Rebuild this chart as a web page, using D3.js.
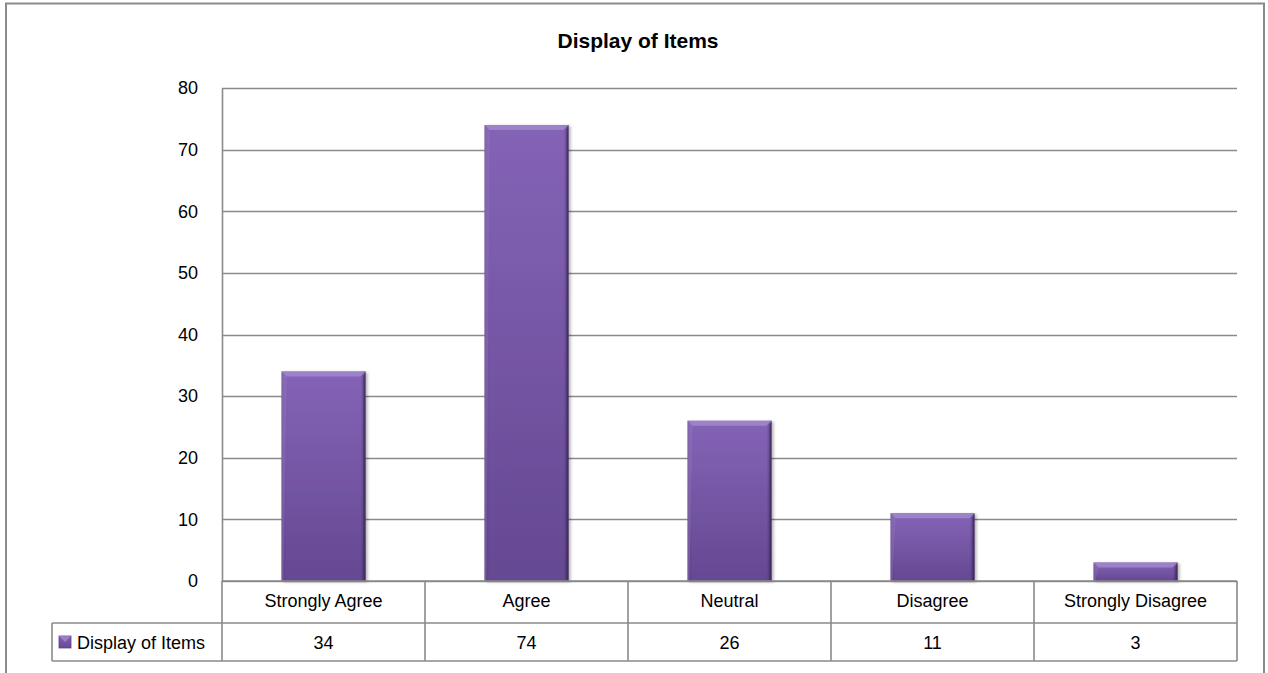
<!DOCTYPE html>
<html><head><meta charset="utf-8">
<script src="https://cdn.jsdelivr.net/npm/d3@7/dist/d3.min.js"></script>
<style>body{margin:0;background:#fff}svg{display:block}text{font-family:"Liberation Sans",Arial,sans-serif}</style>
</head><body><div id="chart"></div>
<script>
const title = "Display of Items";
const seriesName = "Display of Items";
const categories = ["Strongly Agree", "Agree", "Neutral", "Disagree", "Strongly Disagree"];
const values = [34, 74, 26, 11, 3];
const yTicks = [0, 10, 20, 30, 40, 50, 60, 70, 80];

const W = 1268, H = 673;
const FS = 18;
const svg = d3.select("#chart").append("svg").attr("width", W).attr("height", H);
const defs = svg.append("defs");

const plot = {left: 222, right: 1237, top: 88, bottom: 581};
const rowH1 = 42, rowH2 = 38;
const legendLeft = 52;

const x = d3.scaleBand().domain(categories).range([plot.left, plot.right]).paddingInner(0).paddingOuter(0);
const y = d3.scaleLinear().domain([0, 80]).range([plot.bottom, plot.top]);

// gradients
const gv = defs.append("linearGradient").attr("id", "gv").attr("x1", 0).attr("y1", 0).attr("x2", 0).attr("y2", 1);
gv.append("stop").attr("offset", "0%").attr("stop-color", "#8463b6");
gv.append("stop").attr("offset", "100%").attr("stop-color", "#654892");
const gh = defs.append("linearGradient").attr("id", "gh").attr("x1", 0).attr("y1", 0).attr("x2", 1).attr("y2", 0);
gh.append("stop").attr("offset", "0%").attr("stop-color", "#000").attr("stop-opacity", 0.12);
gh.append("stop").attr("offset", "6%").attr("stop-color", "#000").attr("stop-opacity", 0);
gh.append("stop").attr("offset", "94%").attr("stop-color", "#000").attr("stop-opacity", 0);
gh.append("stop").attr("offset", "100%").attr("stop-color", "#000").attr("stop-opacity", 0.3);
const f = defs.append("filter").attr("id", "sh").attr("x", "-10%").attr("y", "-10%").attr("width", "130%").attr("height", "130%");
f.append("feDropShadow").attr("dx", 2).attr("dy", 1).attr("stdDeviation", 1.5).attr("flood-color", "#000").attr("flood-opacity", 0.3);

// outer border
svg.append("rect").attr("x", 6).attr("y", 3.5).attr("width", 1258).attr("height", 700)
  .attr("fill", "none").attr("stroke", "#8a8a8a").attr("stroke-width", 2);

// title
svg.append("text").attr("x", 638).attr("y", 48).attr("text-anchor", "middle")
  .attr("font-size", 21).attr("font-weight", "bold").attr("fill", "#000").text(title);

// gridlines
svg.append("g").selectAll("line").data(yTicks).join("line")
  .attr("x1", plot.left).attr("x2", plot.right)
  .attr("y1", d => Math.round(y(d)) + 0.5).attr("y2", d => Math.round(y(d)) + 0.5)
  .attr("stroke", "#8a8a8a").attr("stroke-width", 1.6);

// y axis
const yAxis = d3.axisLeft(y).tickValues(yTicks).tickSize(0).tickPadding(24);
const ya = svg.append("g").attr("transform", `translate(${plot.left},0)`).call(yAxis);
ya.attr("font-size", FS).attr("font-family", '"Liberation Sans",Arial,sans-serif');
ya.select(".domain").attr("stroke", "#8a8a8a").attr("stroke-width", 1.6);
ya.selectAll("text").attr("font-size", FS).attr("fill", "#000");

// bars
const bw = 84;
const bars = svg.append("g").selectAll("g").data(categories).join("g");
bars.each(function(c, i) {
  const g = d3.select(this);
  const cx = x(c) + x.bandwidth() / 2;
  const x0 = cx - bw / 2, y0 = y(values[i]), h = plot.bottom - y0;
  g.append("rect").attr("x", x0).attr("y", y0).attr("width", bw).attr("height", h)
    .attr("fill", "url(#gv)").attr("filter", "url(#sh)");
  g.append("rect").attr("x", x0).attr("y", y0).attr("width", bw).attr("height", h).attr("fill", "url(#gh)");
  const b = Math.min(5, h / 2);
  g.append("path").attr("d", `M${x0},${y0}L${x0 + bw},${y0}L${x0 + bw - b},${y0 + b}L${x0 + b},${y0 + b}Z`)
    .attr("fill", "#a088cc").attr("opacity", 0.85);
  g.append("path").attr("d", `M${x0 + bw},${y0}L${x0 + bw},${y0 + h}L${x0 + bw - 2},${y0 + h}L${x0 + bw - 2},${y0 + b}Z`)
    .attr("fill", "#3e2a60").attr("opacity", 0.7);
  g.append("path").attr("d", `M${x0},${y0}L${x0 + b},${y0 + b}L${x0 + 2},${y0 + h}L${x0},${y0 + h}Z`)
    .attr("fill", "#9a80c6").attr("opacity", 0.35);
});

// data table
const tg = svg.append("g").attr("fill", "none").attr("stroke", "#8a8a8a").attr("stroke-width", 1.6);
const r1 = plot.bottom + rowH1, r2 = r1 + rowH2;
tg.append("line").attr("x1", plot.left).attr("x2", plot.right).attr("y1", plot.bottom).attr("y2", plot.bottom);
tg.append("line").attr("x1", legendLeft).attr("x2", plot.right).attr("y1", r1).attr("y2", r1);
tg.append("line").attr("x1", legendLeft).attr("x2", plot.right).attr("y1", r2).attr("y2", r2);
tg.append("line").attr("x1", legendLeft).attr("x2", legendLeft).attr("y1", r1).attr("y2", r2);
const colEdges = categories.map(c => x(c)).concat([plot.right]);
tg.selectAll(".v").data(colEdges).join("line").attr("class", "v")
  .attr("x1", d => d).attr("x2", d => d).attr("y1", plot.bottom).attr("y2", r2);

svg.append("g").selectAll("text").data(categories).join("text")
  .attr("x", c => x(c) + x.bandwidth() / 2).attr("y", plot.bottom + 26)
  .attr("text-anchor", "middle").attr("font-size", FS).attr("fill", "#000").text(c => c);
svg.append("g").selectAll("text").data(values).join("text")
  .attr("x", (v, i) => x(categories[i]) + x.bandwidth() / 2).attr("y", r1 + 26)
  .attr("text-anchor", "middle").attr("font-size", FS).attr("fill", "#000").text(v => v);

// legend key
svg.append("rect").attr("x", 59).attr("y", r1 + 13).attr("width", 12).attr("height", 12)
  .attr("fill", "url(#gv)").attr("stroke", "#5a3f86").attr("stroke-width", 0.8);
svg.append("path").attr("d", `M59,${r1 + 13}L71,${r1 + 13}L65,${r1 + 19}Z`).attr("fill", "#a088cc").attr("opacity", 0.8);
svg.append("text").attr("x", 77).attr("y", r1 + 26).attr("font-size", FS).attr("fill", "#000").text(seriesName);
</script></body></html>
